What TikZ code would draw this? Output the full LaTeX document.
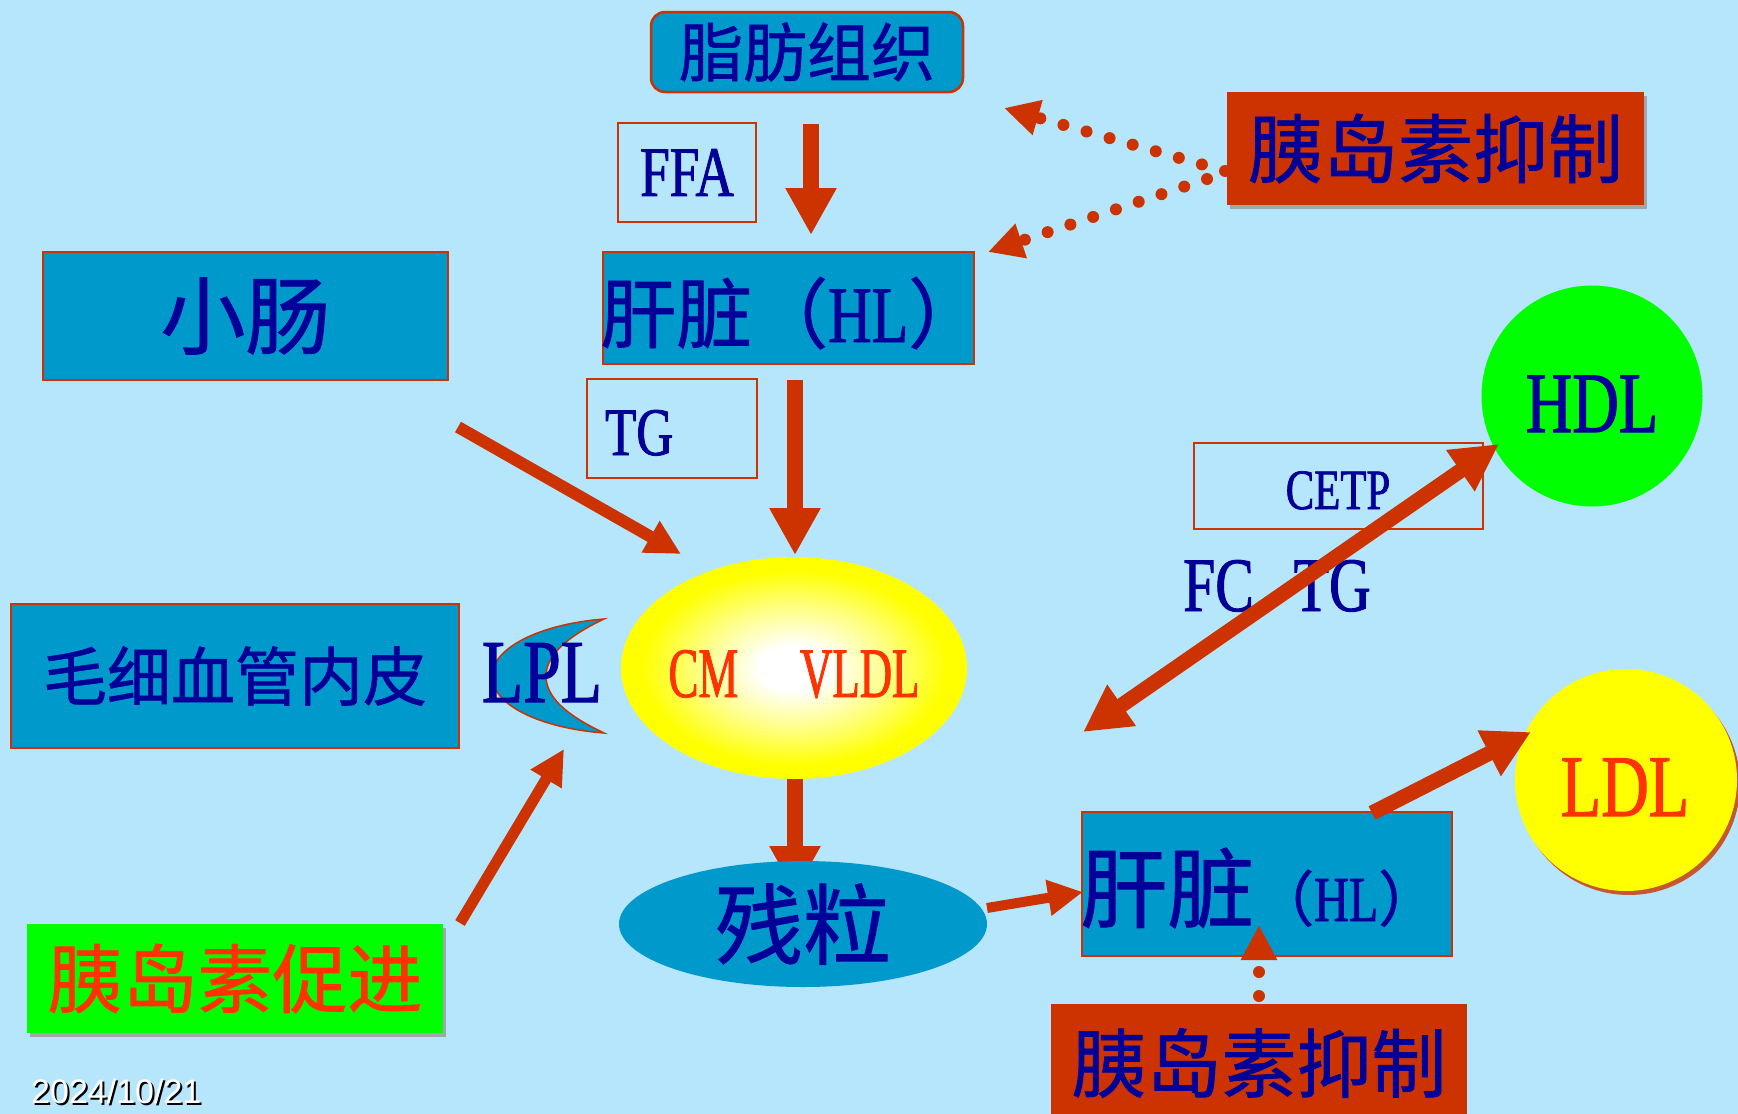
\documentclass[tikz,border=0pt]{standalone}
\usepackage{fontspec}
\usetikzlibrary{arrows.meta,shapes.geometric,shadows}
\newfontfamily\cjk[FakeBold=1]{Noto Sans CJK SC}
\newfontfamily\lat[FakeStretch=0.75,FakeBold=1.2]{Liberation Serif}
\newfontfamily\latn[FakeStretch=0.63,FakeBold=1.2]{Liberation Serif}
\newfontfamily\datefont{Liberation Sans}
\newcommand\fsz[1]{\fontsize{#1}{#1}\selectfont}
\definecolor{bg}{RGB}{182,230,252}
\definecolor{boxc}{RGB}{0,153,204}
\definecolor{bord}{RGB}{204,51,0}
\definecolor{navy}{RGB}{0,0,153}
\definecolor{redt}{RGB}{255,51,0}
\definecolor{grn}{RGB}{0,255,0}
\definecolor{yel}{RGB}{255,255,0}
\pgfdeclareradialshading{glow}{\pgfpoint{0bp}{0bp}}{color(0bp)=(white); color(5bp)=(white); color(14bp)=(yel!50!white); color(22bp)=(yel); color(50bp)=(yel)}
\tikzset{
  bluebox/.style={draw=bord, line width=2.5pt, fill=boxc, inner sep=0pt, text=navy},
  thinbox/.style={draw=bord, line width=2pt, inner sep=0pt, text=navy},
  plain/.style={inner sep=0pt, text=navy},
  bigarr/.style={draw=bord, line width=16pt, -{Triangle[length=47pt,width=48pt]}},
  midarr/.style={draw=bord, line width=11pt, -{Triangle[length=35pt,width=34pt]}},
  dblarr/.style={draw=bord, line width=15pt, {Triangle[length=47pt,width=47pt]}-{Triangle[length=47pt,width=47pt]}},
  dotarr/.style={draw=bord, line width=12pt, line cap=round, dash pattern=on 0pt off 24pt, -{Triangle[length=35pt,width=34pt]}},
  shadowed/.style={drop shadow={shadow xshift=3pt, shadow yshift=-4pt, fill=black!40, opacity=0.8}}
}
\begin{document}
\begin{tikzpicture}[x=1pt,y=-1pt]
\useasboundingbox (0,0) rectangle (1738,1114);
\fill[bg] (0,0) rectangle (1738,1114);
\clip (0,0) rectangle (1738,1114);

% arrow behind remnant ellipse
\coordinate (e1) at (795,779);
\coordinate (e2) at (795,893);
\draw[bigarr] (e1) -- (e2);

% nodes
\node[bluebox, rounded corners=14pt, minimum width=312pt, minimum height=80pt] (fat) at (807,52) {\cjk\fsz{64}脂肪组织};
\node[thinbox, minimum width=138pt, minimum height=99pt] (ffa) at (687,172.5) {\lat\fsz{71}FFA};
\node[bluebox, minimum width=371pt, minimum height=112pt] (hl1) at (788.5,308) {};
\node[plain, anchor=base west] (hl1t) at (600,342) {\cjk\fsz{76}肝脏（\lat\fsz{80}HL\cjk\fsz{76}）};
\node[bluebox, minimum width=405pt, minimum height=128pt] (xc) at (245.5,316) {\cjk\fsz{85}小肠};
\node[thinbox, minimum width=170pt, minimum height=99pt] (tgb) at (672,428.5) {};
\node[plain, anchor=base west] (tgt) at (605,455) {\lat\fsz{68}TG};
\node[ellipse, shading=glow, minimum width=346pt, minimum height=222pt, inner sep=0pt] (vl) at (794,668) {};
\node[plain, anchor=base, text=redt] (cmv) at (794,697) {\latn\fsz{71}CM\hspace{62pt}VLDL};
\draw[draw=bord, line width=1.5pt, fill=boxc] (604,619) .. controls (540,624) and (492,648) .. (492,676) .. controls (492,705) and (540,728) .. (604,733) .. controls (566,715) and (546,697) .. (546,676) .. controls (546,656) and (566,637) .. (604,619) -- cycle;
\node[plain, anchor=base] (lpl) at (542,702) {\lat\fsz{90}LPL};
\node[bluebox, minimum width=448pt, minimum height=144pt] (mx) at (235,676) {\cjk\fsz{64}毛细血管内皮};
\node[fill=grn, shadowed, minimum width=416pt, minimum height=109pt, inner sep=0pt, text=redt] (cj) at (235,978.5) {\cjk\fsz{75}胰岛素促进};
\node[fill=bord, shadowed, minimum width=417pt, minimum height=113pt, inner sep=0pt, text=navy] (yd1) at (1435.5,148.5) {\cjk\fsz{75}胰岛素抑制};
\node[fill=bord, minimum width=416pt, minimum height=118pt, inner sep=0pt, text=navy] (yd2) at (1259,1063) {\cjk\fsz{75}胰岛素抑制};
\node[ellipse, fill=boxc, minimum width=368pt, minimum height=126pt, inner sep=0pt, text=navy] (cl) at (803,924) {\cjk\fsz{88}残粒};
\node[bluebox, minimum width=370pt, minimum height=144pt] (hl2) at (1267,884) {};
\node[plain, anchor=base west] (hl2t) at (1080,921) {\cjk\fsz{87}肝脏\fsz{60}（\lat\fsz{64}HL\cjk\fsz{60}）};
\node[thinbox, minimum width=289pt, minimum height=86pt] (cetp) at (1338.5,486) {};
\node[plain, anchor=base] (cetpt) at (1338,509) {\lat\fsz{57}CETP};
\node[circle, fill=grn, minimum size=221pt, inner sep=0pt] (hdl) at (1592,396) {};
\node[plain, anchor=base] (hdlt) at (1592,432) {\lat\fsz{86}HDL};
\node[circle, fill=yel, minimum size=222pt, inner sep=0pt, drop shadow={shadow xshift=3pt, shadow yshift=-4pt, fill=bord, opacity=0.8}] (ldl) at (1626,780) {};
\node[plain, anchor=base, text=redt] (ldlt) at (1625,816) {\lat\fsz{88}LDL};
\node[plain, anchor=base west] (fctg) at (1183,611) {\lat\fsz{77}FC\hspace{40pt}TG};

% date
\node[anchor=base west, inner sep=0pt, text=black] (dsh) at (33,1105) {\datefont\fsz{34}2024/10/21};
\node[anchor=base west, inner sep=0pt, text=white] (dt) at (31,1103) {\datefont\fsz{34}2024/10/21};

% arrows
\coordinate (a1s) at (811,124); \coordinate (a1e) at (811,235);
\draw[bigarr] (a1s) -- (a1e);
\coordinate (a2s) at (795,380); \coordinate (a2e) at (795,555);
\draw[bigarr] (a2s) -- (a2e);
\coordinate (a3s) at (458,427); \coordinate (a3e) at (681,554);
\draw[midarr, line width=12pt] (a3s) -- (a3e);
\coordinate (a4s) at (460,923); \coordinate (a4e) at (564,749);
\draw[midarr] (a4s) -- (a4e);
\coordinate (a6s) at (987,908); \coordinate (a6e) at (1083,892);
\draw[midarr, line width=10pt] (a6s) -- (a6e);
\coordinate (a7s) at (1083,732); \coordinate (a7e) at (1499,444);
\draw[dblarr] (a7s) -- (a7e);
\coordinate (a8s) at (1372,813); \coordinate (a8e) at (1531,732);
\draw[bigarr, line width=15pt] (a8s) -- (a8e);

% dotted inhibition arrows
\coordinate (d1s) at (1225,171); \coordinate (d1e) at (1004,108);
\draw[dotarr] (d1s) -- (d1e);
\coordinate (d2s) at (1207,179); \coordinate (d2e) at (988,252);
\draw[dotarr] (d2s) -- (d2e);
\coordinate (d3s) at (1259,996); \coordinate (d3e) at (1259,925);
\draw[dotarr] (d3s) -- (d3e);
\end{tikzpicture}
\end{document}
